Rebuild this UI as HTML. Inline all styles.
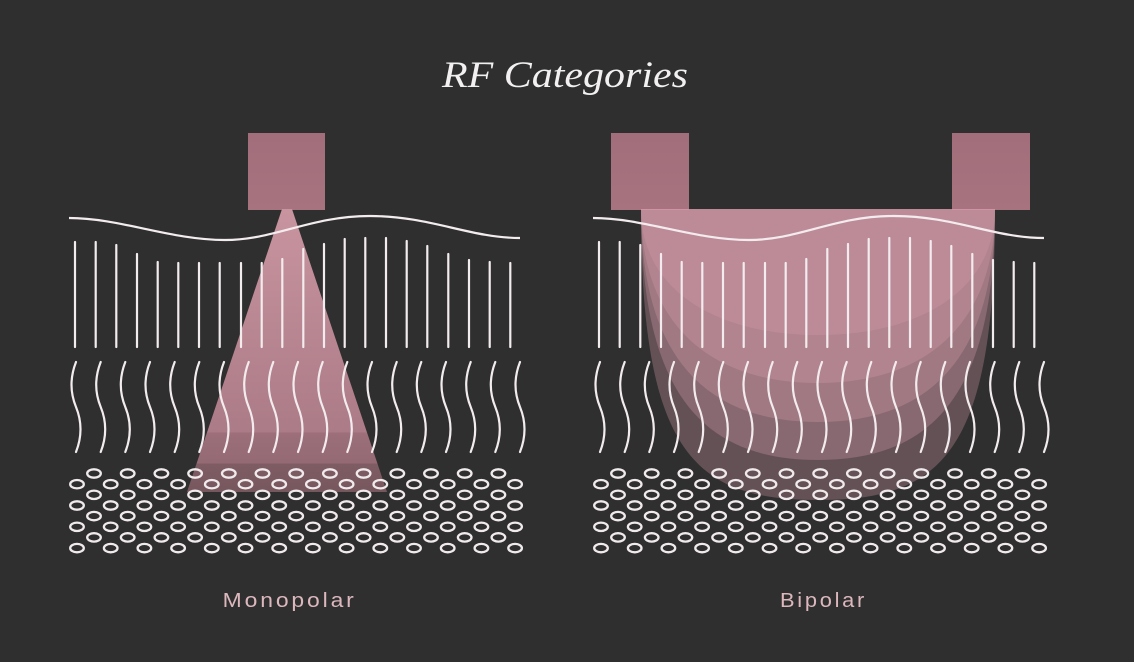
<!DOCTYPE html>
<html>
<head>
<meta charset="utf-8">
<style>
  html,body{margin:0;padding:0;background:#2f2f2f;}
  svg{display:block;}
</style>
</head>
<body>
<svg width="1134" height="662" viewBox="0 0 1134 662" xmlns="http://www.w3.org/2000/svg">
  <defs>
    <linearGradient id="tri" x1="0" y1="209" x2="0" y2="492" gradientUnits="userSpaceOnUse">
      <stop offset="0" stop-color="#c8949f"/>
      <stop offset="0.79" stop-color="#ab7b87"/>
      <stop offset="0.79" stop-color="#9c6f7a"/>
      <stop offset="0.9" stop-color="#946a74"/>
      <stop offset="0.9" stop-color="#7f5c64"/>
      <stop offset="1" stop-color="#77575e"/>
    </linearGradient>
    <linearGradient id="sq" x1="0" y1="0" x2="0" y2="1">
      <stop offset="0" stop-color="#a26e7b"/>
      <stop offset="1" stop-color="#a7737f"/>
    </linearGradient>
    <path id="wv" d="M0,362 Q-9,385 0,407 T0,452" fill="none" stroke="#f3ecee" stroke-width="2.2" stroke-linecap="round"/>
    <g id="rowA" fill="none" stroke="#f0eaec" stroke-width="2.3">
      <ellipse cx="94" cy="0" rx="6.8" ry="4.2"/>
      <ellipse cx="127.7" cy="0" rx="6.8" ry="4.2"/>
      <ellipse cx="161.4" cy="0" rx="6.8" ry="4.2"/>
      <ellipse cx="195.1" cy="0" rx="6.8" ry="4.2"/>
      <ellipse cx="228.8" cy="0" rx="6.8" ry="4.2"/>
      <ellipse cx="262.5" cy="0" rx="6.8" ry="4.2"/>
      <ellipse cx="296.2" cy="0" rx="6.8" ry="4.2"/>
      <ellipse cx="329.9" cy="0" rx="6.8" ry="4.2"/>
      <ellipse cx="363.6" cy="0" rx="6.8" ry="4.2"/>
      <ellipse cx="397.3" cy="0" rx="6.8" ry="4.2"/>
      <ellipse cx="431" cy="0" rx="6.8" ry="4.2"/>
      <ellipse cx="464.7" cy="0" rx="6.8" ry="4.2"/>
      <ellipse cx="498.4" cy="0" rx="6.8" ry="4.2"/>
    </g>
    <g id="rowB" fill="none" stroke="#f0eaec" stroke-width="2.3">
      <ellipse cx="77" cy="0" rx="6.8" ry="4.2"/>
      <ellipse cx="110.7" cy="0" rx="6.8" ry="4.2"/>
      <ellipse cx="144.4" cy="0" rx="6.8" ry="4.2"/>
      <ellipse cx="178.1" cy="0" rx="6.8" ry="4.2"/>
      <ellipse cx="211.8" cy="0" rx="6.8" ry="4.2"/>
      <ellipse cx="245.5" cy="0" rx="6.8" ry="4.2"/>
      <ellipse cx="279.2" cy="0" rx="6.8" ry="4.2"/>
      <ellipse cx="312.9" cy="0" rx="6.8" ry="4.2"/>
      <ellipse cx="346.6" cy="0" rx="6.8" ry="4.2"/>
      <ellipse cx="380.3" cy="0" rx="6.8" ry="4.2"/>
      <ellipse cx="414" cy="0" rx="6.8" ry="4.2"/>
      <ellipse cx="447.7" cy="0" rx="6.8" ry="4.2"/>
      <ellipse cx="481.4" cy="0" rx="6.8" ry="4.2"/>
      <ellipse cx="515.1" cy="0" rx="6.8" ry="4.2"/>
    </g>
    <g id="tissue">
      <path d="M69,218 C120,218 170,240 225,240 C275,240 310,216 370,216 C430,216 470,238 520,238" fill="none" stroke="#f3ecee" stroke-width="2.2"/>
      <g stroke="#f3ecee" stroke-width="2.2" stroke-linecap="round">
        <line x1="75" y1="242" x2="75" y2="347"/>
        <line x1="95.7" y1="242" x2="95.7" y2="347"/>
        <line x1="116.3" y1="245" x2="116.3" y2="347"/>
        <line x1="137" y1="254" x2="137" y2="347"/>
        <line x1="157.7" y1="262" x2="157.7" y2="347"/>
        <line x1="178.3" y1="263" x2="178.3" y2="347"/>
        <line x1="199" y1="263" x2="199" y2="347"/>
        <line x1="219.7" y1="263" x2="219.7" y2="347"/>
        <line x1="241" y1="263" x2="241" y2="347"/>
        <line x1="261.7" y1="263" x2="261.7" y2="347"/>
        <line x1="282.3" y1="259" x2="282.3" y2="347"/>
        <line x1="303.3" y1="249" x2="303.3" y2="347"/>
        <line x1="324" y1="244" x2="324" y2="347"/>
        <line x1="344.7" y1="239" x2="344.7" y2="347"/>
        <line x1="365.3" y1="238" x2="365.3" y2="347"/>
        <line x1="386" y1="238" x2="386" y2="347"/>
        <line x1="406.7" y1="241" x2="406.7" y2="347"/>
        <line x1="427.3" y1="246" x2="427.3" y2="347"/>
        <line x1="448.3" y1="254" x2="448.3" y2="347"/>
        <line x1="469" y1="260" x2="469" y2="347"/>
        <line x1="489.7" y1="262" x2="489.7" y2="347"/>
        <line x1="510.3" y1="263" x2="510.3" y2="347"/>
      </g>
      <use href="#wv" x="76"/>
      <use href="#wv" x="100.7"/>
      <use href="#wv" x="125.3"/>
      <use href="#wv" x="150"/>
      <use href="#wv" x="174.7"/>
      <use href="#wv" x="199.3"/>
      <use href="#wv" x="224"/>
      <use href="#wv" x="248.7"/>
      <use href="#wv" x="273.3"/>
      <use href="#wv" x="298"/>
      <use href="#wv" x="322.7"/>
      <use href="#wv" x="347.3"/>
      <use href="#wv" x="372"/>
      <use href="#wv" x="396.7"/>
      <use href="#wv" x="421.3"/>
      <use href="#wv" x="446"/>
      <use href="#wv" x="470.7"/>
      <use href="#wv" x="495.3"/>
      <use href="#wv" x="520"/>
      <use href="#rowA" y="473.5"/>
      <use href="#rowB" y="484.2"/>
      <use href="#rowA" y="494.8"/>
      <use href="#rowB" y="505.5"/>
      <use href="#rowA" y="516.1"/>
      <use href="#rowB" y="526.8"/>
      <use href="#rowA" y="537.4"/>
      <use href="#rowB" y="548.1"/>
    </g>
  </defs>

  <rect x="0" y="0" width="1134" height="662" fill="#2f2f2f"/>

  <text x="565" y="87" text-anchor="middle" font-family="Liberation Serif, serif" font-style="italic" font-size="37" fill="#f2f0f0" textLength="246" lengthAdjust="spacingAndGlyphs">RF Categories</text>

  <!-- Monopolar -->
  <rect x="248" y="133" width="77" height="77" fill="url(#sq)"/>
  <polygon points="282,209 292,209 387,492 187,492" fill="url(#tri)"/>
  <use href="#tissue"/>

  <!-- Bipolar -->
  <rect x="611" y="133" width="78" height="77" fill="url(#sq)"/>
  <rect x="952" y="133" width="78" height="77" fill="url(#sq)"/>
  <g fill="rgb(214,156,170)" fill-opacity="0.32">
    <path d="M641,209 H995 C995,455 940,500 818,500 C696,500 641,455 641,209 Z"/>
    <path d="M641,209 H995 C995,390 936,460 818,460 C700,460 641,390 641,209 Z"/>
    <path d="M641,209 H995 C995,350 936,422 818,422 C700,422 641,350 641,209 Z"/>
    <path d="M641,209 H995 C995,320 930,383 818,383 C706,383 641,320 641,209 Z"/>
    <path d="M641,209 H995 C995,290 920,335 818,335 C716,335 641,290 641,209 Z"/>
  </g>
  <use href="#tissue" x="524"/>

  <text x="222.7" y="607" font-family="Liberation Sans, sans-serif" font-size="20" letter-spacing="2.5" fill="#dcb8be" textLength="134" lengthAdjust="spacingAndGlyphs">Monopolar</text>
  <text x="780" y="607" font-family="Liberation Sans, sans-serif" font-size="20" letter-spacing="2.5" fill="#dcb8be" textLength="87" lengthAdjust="spacingAndGlyphs">Bipolar</text>
</svg>
</body>
</html>
